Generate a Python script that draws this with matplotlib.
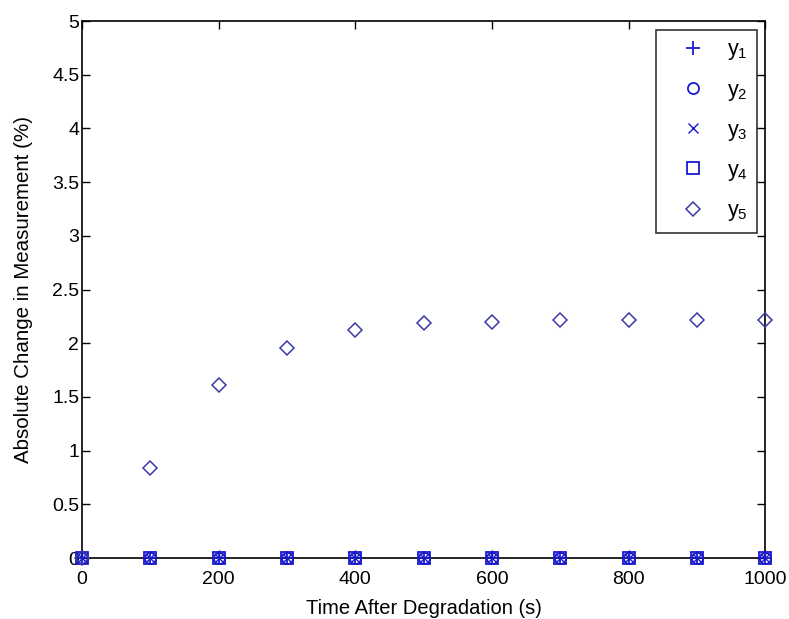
import matplotlib
matplotlib.use("Agg")
import matplotlib.pyplot as plt
import numpy as np

plt.rcParams['font.family'] = ['Liberation Sans', 'DejaVu Sans']
plt.rcParams['mathtext.fontset'] = 'custom'
plt.rcParams['mathtext.rm'] = 'Liberation Sans'
plt.rcParams['mathtext.it'] = 'Liberation Sans'

# data
t = [0, 100, 200, 300, 400, 500, 600, 700, 800, 900, 1000]
y1 = [0, 0, 0, 0, 0, 0, 0, 0, 0, 0, 0]
y2 = [0, 0, 0, 0, 0, 0, 0, 0, 0, 0, 0]
y3 = [0, 0, 0, 0, 0, 0, 0, 0, 0, 0, 0]
y4 = [0, 0, 0, 0, 0, 0, 0, 0, 0, 0, 0]
y5 = [0, 0.84, 1.61, 1.96, 2.12, 2.19, 2.20, 2.22, 2.22, 2.22, 2.22]

fig = plt.figure(figsize=(7.89, 6.19), dpi=100)
ax = fig.add_axes([0.104, 0.0985, 0.866, 0.8675])

c = '#1a1acc'
ax.plot(t, y1, linestyle='none', marker='+', color=c, ms=10, mew=1.3, label=r'y$_1$', clip_on=False, zorder=5)
ax.plot(t, y2, linestyle='none', marker='o', color=c, ms=8, mew=1.3, mfc='none', label=r'y$_2$', clip_on=False, zorder=5)
ax.plot(t, y3, linestyle='none', marker='x', color=c, ms=7, mew=1.0, label=r'y$_3$', clip_on=False, zorder=5)
ax.plot(t, y4, linestyle='none', marker='s', color=c, ms=9, mew=1.3, mfc='none', label=r'y$_4$', clip_on=False, zorder=5)
ax.plot(t, y5, linestyle='none', marker='D', color='#3a3aa8', ms=7, mew=1.1, mfc='none', label=r'y$_5$', clip_on=False, zorder=5)

ax.set_xlim(0, 1000)
ax.set_ylim(0, 5)
ax.set_xticks(np.arange(0, 1001, 200))
ax.set_yticks(np.arange(0, 5.01, 0.5))
ax.set_yticklabels(['0', '0.5', '1', '1.5', '2', '2.5', '3', '3.5', '4', '4.5', '5'])
ax.tick_params(direction='in', top=True, right=True, labelsize=14, length=6, width=1, pad=2)
ax.tick_params(axis='x', pad=9)
for s in ax.spines.values():
    s.set_linewidth(1.2)

ax.set_xlabel('Time After Degradation (s)', fontsize=14.5, labelpad=8)
ax.set_ylabel('Absolute Change in Measurement (%)', fontsize=14.8, labelpad=14)

leg = ax.legend(loc='upper right', bbox_to_anchor=(0.988, 0.984), fontsize=15.5, frameon=True,
                fancybox=False, edgecolor='black', handlelength=2.55, handletextpad=0.3,
                labelspacing=0.8, borderpad=0.45, borderaxespad=0.0)
leg.get_frame().set_linewidth(1.2)

plt.savefig('out.png', dpi=100)
